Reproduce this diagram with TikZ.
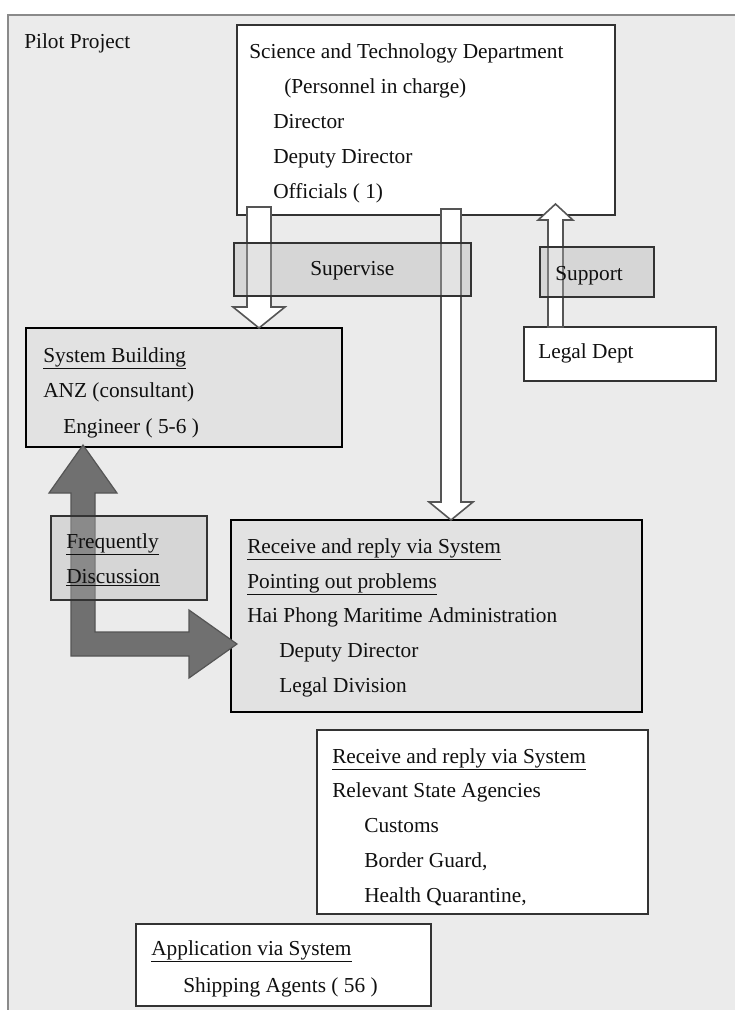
\documentclass[tikz,border=0pt]{standalone}
\usepackage{fontspec}
\setmainfont{Liberation Serif}
\usetikzlibrary{calc}
\definecolor{pagebg}{HTML}{EBEBEB}
\definecolor{framedge}{HTML}{8A8A8A}
\definecolor{ink}{HTML}{101010}
\definecolor{boxedge}{HTML}{333333}
\definecolor{shadebox}{HTML}{E2E2E2}
\definecolor{labelfill}{HTML}{B6B6B6}
\definecolor{arrowedge}{HTML}{555555}
\definecolor{bigarrow}{HTML}{707070}
% vertical block arrow: style, tail, tip, half shaft width, half head width, head length
\newcommand\vblock[6]{%
  \path[#1] let \p1=(#2), \p2=(#3), \n1={sign(\y2-\y1)}, \n2={\y2-\n1*#6} in
    ({\x1-#4},\y1) -- ({\x1-#4},\n2) -- ({\x1-#5},\n2) -- (\x1,\y2)
    -- ({\x1+#5},\n2) -- ({\x1+#4},\n2) -- ({\x1+#4},\y1) -- cycle;}
\begin{document}
\begin{tikzpicture}[x=0.75pt,y=-0.75pt,
  txt/.style={anchor=base west, inner sep=0pt, text=ink,
    font=\fontsize{16pt}{18pt}\selectfont},
  boxbase/.style={anchor=north west, inner sep=0pt, outer sep=0pt},
  whitebox/.style={boxbase, draw=boxedge, line width=1.1pt, fill=white},
  heavybox/.style={boxbase, draw=black, line width=1.9pt, fill=shadebox},
  labelbox/.style={boxbase, draw=boxedge, line width=1.2pt, fill=labelfill, fill opacity=0.38},
  hollow/.style={draw=arrowedge, line width=1.2pt, fill=white},
  shaded/.style={draw=arrowedge, line width=0.9pt, fill=bigarrow}]
\useasboundingbox (0,0) rectangle (735,1010);
\clip (0,0) rectangle (735,1010);
\fill[white] (0,0) rectangle (735,1010);
% project frame
\draw[draw=framedge, line width=1.5pt, fill=pagebg] (8,15) rectangle (760,1040);
\node[txt] (pilot) at (24,48) {Pilot Project};

% boxes
\node[whitebox, minimum width=283.5pt, minimum height=142.5pt] (sci) at (237,25) {};
\node[whitebox, minimum width=144pt, minimum height=40.5pt] (legal) at (524,327) {};
\node[heavybox, minimum width=237pt, minimum height=89.25pt] (sb) at (26,328) {};
\node[heavybox, minimum width=308.25pt, minimum height=144pt] (hp) at (231,520) {};
\node[whitebox, minimum width=248.25pt, minimum height=138pt] (rsa) at (317,730) {};
\node[whitebox, minimum width=221.25pt, minimum height=61.5pt] (app) at (136,924) {};

% connector end points
\coordinate (supA) at ($(sci.south west)+(22,-8)$);
\coordinate (supB) at (supA |- sb.north);
\coordinate (lngA) at ($(sci.south west)+(214,-6)$);
\coordinate (lngB) at (lngA |- hp.north);
\coordinate (sptA) at ($(legal.north west)+(31.5,0)$);
\coordinate (sptB) at ($(sptA |- sci.south)+(0,-11)$);
\coordinate (fA) at ($(sb.south west)+(57,-2)$);
\coordinate (fB) at ($(hp.south west)+(6,-68)$);

% hollow arrows
\vblock{hollow}{supA}{supB}{9pt}{19.5pt}{15.75pt}
\vblock{hollow}{lngA}{lngB}{7.5pt}{16.5pt}{13.5pt}
\vblock{hollow}{sptA}{sptB}{5.6pt}{13pt}{12pt}

% two-headed elbow arrow between system building and the administration
\path[shaded] let \p1=(fA), \p2=(fB) in
  (\x1,\y1) -- ({\x1+25.5pt},{\y1-36pt}) -- ({\x1+9pt},{\y1-36pt}) -- ({\x1+9pt},{\y2+9pt})
  -- ({\x2-36pt},{\y2+9pt}) -- ({\x2-36pt},{\y2+25.5pt}) -- (\x2,\y2)
  -- ({\x2-36pt},{\y2-25.5pt}) -- ({\x2-36pt},{\y2-9pt}) -- ({\x1-9pt},{\y2-9pt})
  -- ({\x1-9pt},{\y1-36pt}) -- ({\x1-25.5pt},{\y1-36pt}) -- cycle;

% translucent label boxes
\node[labelbox, minimum width=177.75pt, minimum height=39.75pt] (supL) at (234,243) {};
\node[labelbox, minimum width=85.5pt, minimum height=37.5pt] (sptL) at (540,247) {};
\node[labelbox, minimum width=117pt, minimum height=63pt] (frqL) at (51,516) {};

% label texts
\node[txt] (supT) at (310,275) {Supervise};
\node[txt] (sptT) at (555,280) {Support};
\node[txt] (frq1) at (66,548) {\underline{Frequently}};
\node[txt] (frq2) at (66,583) {\underline{Discussion}};

% Science and Technology Department
\node[txt] (sci1) at (249,58) {Science and Technology Department};
\node[txt] (sci2) at (284,93) {(Personnel in charge)};
\node[txt] (sci3) at (273,128) {Director};
\node[txt] (sci4) at (273,163) {Deputy Director};
\node[txt] (sci5) at (273,198) {Officials ( 1)};

% Legal Dept
\node[txt] (leg1) at (538,358) {Legal Dept};

% System Building
\node[txt] (sb1) at (43,362) {\underline{System Building}};
\node[txt] (sb2) at (43,397) {ANZ (consultant)};
\node[txt] (sb3) at (63,433) {Engineer ( 5-6 )};

% Hai Phong Maritime Administration
\node[txt] (hp1) at (247,553) {\underline{Receive and reply via System}};
\node[txt] (hp2) at (247,588) {\underline{Pointing out problems}};
\node[txt] (hp3) at (247,622) {Hai Phong Maritime Administration};
\node[txt] (hp4) at (279,657) {Deputy Director};
\node[txt] (hp5) at (279,692) {Legal Division};

% Relevant State Agencies
\node[txt] (rsa1) at (332,763) {\underline{Receive and reply via System}};
\node[txt] (rsa2) at (332,797) {Relevant State Agencies};
\node[txt] (rsa3) at (364,832) {Customs};
\node[txt] (rsa4) at (364,867) {Border Guard,};
\node[txt] (rsa5) at (364,902) {Health Quarantine,};

% Shipping agents
\node[txt] (app1) at (151,955) {\underline{Application via System}};
\node[txt] (app2) at (183,992) {Shipping Agents ( 56 )};
\end{tikzpicture}
\end{document}
